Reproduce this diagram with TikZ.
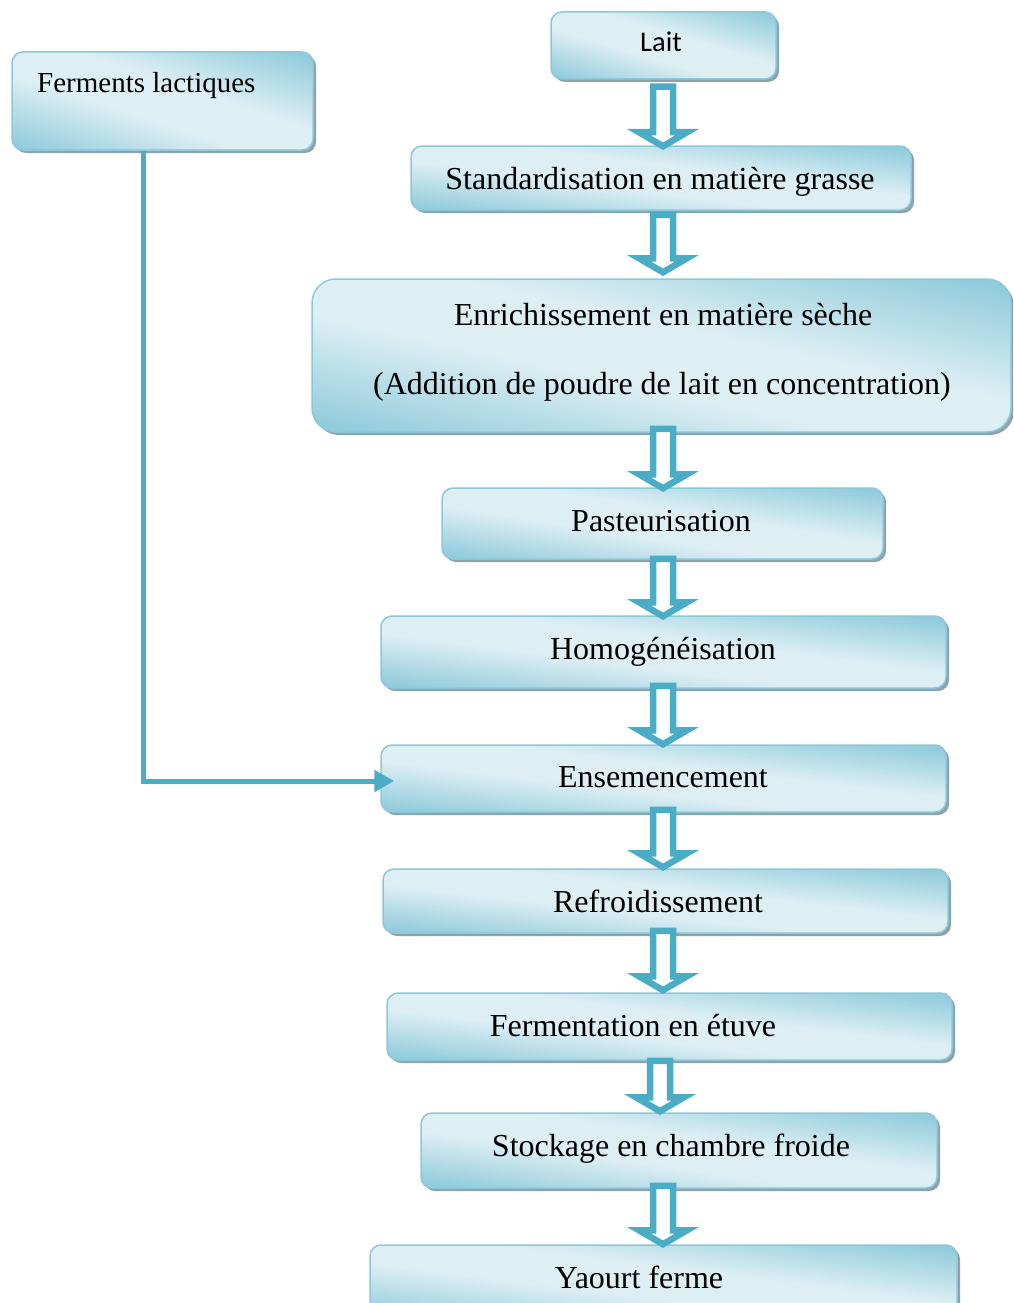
\documentclass[tikz,border=0pt]{standalone}
\usepackage{fontspec}
\setmainfont{Liberation Serif}
\newfontfamily\calfont{Carlito}
\usetikzlibrary{calc,shadows,arrows.meta}
\definecolor{bdark}{RGB}{146,204,220}
\definecolor{blight}{RGB}{222,239,244}
\definecolor{bline}{RGB}{140,200,218}
\definecolor{shadowc}{RGB}{140,163,172}
\definecolor{accent}{RGB}{75,172,198}
\pgfdeclarehorizontalshading{boxshade}{100bp}{color(0bp)=(bdark); color(17bp)=(bdark); color(42bp)=(blight); color(57bp)=(blight); color(83bp)=(bdark); color(100bp)=(bdark)}
\newcommand\myboxshade{%
  \pgfpointdiff{\pgfpointanchor{path picture bounding box}{south west}}{\pgfpointanchor{path picture bounding box}{north east}}%
  \pgfgetlastxy{\mybw}{\mybh}%
  \pgfmathsetmacro\myscx{\mybw/50bp}%
  \pgfmathsetmacro\myscy{\mybh/50bp}%
  \pgftransformshift{\pgfpointanchor{path picture bounding box}{center}}%
  \pgftransformxscale{\myscx}%
  \pgftransformyscale{\myscy}%
  \pgftransformrotate{45}%
  \pgflowlevelsynccm
  \pgfuseshading{boxshade}%
}
\tikzset{
  box/.style={draw=bline, line width=1.5pt, rounded corners=11pt, fill=blight, path picture={\myboxshade},
    inner sep=0pt, drop shadow={shadow xshift=3pt, shadow yshift=-3pt, fill=shadowc, opacity=1}},
  lbl/.style={anchor=base, inner sep=0pt, font=\fontsize{32}{38}\selectfont},
  slbl/.style={anchor=base, inner sep=0pt, font=\fontsize{29}{35}\selectfont},
  hollow/.style={draw=accent, fill=white, line width=6.5pt, line join=miter,
    to path={let \p1=(\tikztostart), \p2=(\tikztotarget) in
      (\x1-10pt,\y1) -- (\x1-10pt,\y2+14pt) -- (\x1-24pt,\y2+14pt) -- (\x1,\y2)
      -- (\x1+24pt,\y2+14pt) -- (\x1+10pt,\y2+14pt) -- (\x1+10pt,\y1) -- cycle}},
  feed/.style={draw=accent, line width=5pt, -{Triangle[length=20pt,width=21pt]}}
}
\begin{document}
\begin{tikzpicture}[x=1pt,y=-1pt]
\clip (0,0) rectangle (1013,1303);
\fill[white] (0,0) rectangle (1013,1303);
\coordinate (ax) at (663,0);
% boxes
\node[box, minimum width=225pt, minimum height=67pt] (lait) at (663.5,45.5) {};
\node[box, minimum width=301pt, minimum height=98pt] (ferm) at (162.5,101) {};
\node[box, minimum width=500pt, minimum height=64pt] (std) at (661,178) {};
\node[box, rounded corners=24pt, minimum width=699pt, minimum height=153pt] (enr) at (661.5,355.5) {};
\node[box, minimum width=441pt, minimum height=71pt] (past) at (662.5,523.5) {};
\node[box, minimum width=565pt, minimum height=72pt] (homo) at (663.5,652) {};
\node[box, minimum width=565pt, minimum height=67pt] (ense) at (663.5,778.5) {};
\node[box, minimum width=565pt, minimum height=64pt] (refr) at (665.5,901) {};
\node[box, minimum width=565pt, minimum height=67pt] (fermt) at (669.5,1026.5) {};
\node[box, minimum width=516pt, minimum height=75pt] (stock) at (679,1150.5) {};
\node[box, minimum width=587pt, minimum height=75pt] (yaourt) at (663.5,1282.5) {};
% texts
\node[slbl, font=\calfont\fontsize{28.5}{34}\selectfont] (tlait) at (661,52) {Lait};
\node[slbl, anchor=base west] (tferm) at (37,93) {Ferments lactiques};
\node[lbl] (tstd) at (660,189) {Standardisation en matière grasse};
\node[lbl] (tenr1) at (663,325) {Enrichissement en matière sèche};
\node[lbl] (tenr2) at (662,394) {(Addition de poudre de lait en concentration)};
\node[lbl] (tpast) at (661,531) {Pasteurisation};
\node[lbl] (thomo) at (663,659) {Homogénéisation};
\node[lbl] (tense) at (663,787) {Ensemencement};
\node[lbl] (trefr) at (658,912) {Refroidissement};
\node[lbl] (tfermt) at (633,1036) {Fermentation en étuve};
\node[lbl] (tstock) at (671,1156) {Stockage en chambre froide};
\node[lbl] (tyaourt) at (639,1288) {Yaourt ferme};
% hollow arrows
\draw[hollow] ($(lait.south -| ax)+(0,7)$) to ($(std.north -| ax)+(0,1)$);
\draw[hollow] ($(std.south -| ax)+(0,4)$) to ($(enr.north -| ax)+(0,-6)$);
\draw[hollow] ($(enr.south -| ax)+(0,-4)$) to ($(past.north -| ax)+(0,1)$);
\draw[hollow] ($(past.south -| ax)+(0,-1)$) to ($(homo.north -| ax)+(0,1)$);
\draw[hollow] ($(homo.south -| ax)+(0,-3)$) to ($(ense.north -| ax)+(0,0)$);
\draw[hollow] ($(ense.south -| ax)+(0,-3)$) to ($(refr.north -| ax)+(0,-1)$);
\draw[hollow] ($(refr.south -| ax)+(0,-3)$) to ($(fermt.north -| ax)+(0,-2)$);
\draw[hollow] ($(fermt.south -| 660,0)+(0,0)$) to ($(stock.north -| 660,0)+(0,-1)$);
\draw[hollow] ($(stock.south -| ax)+(0,-3)$) to ($(yaourt.north -| ax)+(0,0)$);
% feed line
\draw[feed] (ferm.south -| 143,0) |- ($(ense.west)+(14,2.5)$);
\end{tikzpicture}
\end{document}
